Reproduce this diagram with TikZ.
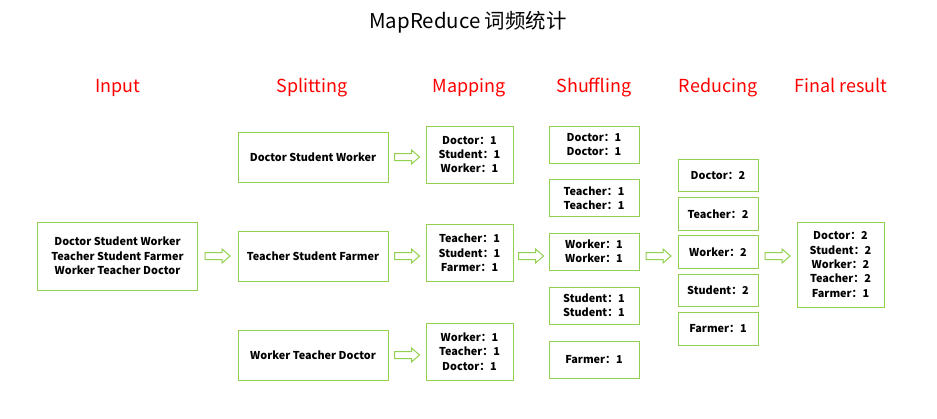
\documentclass[tikz,border=0pt]{standalone}
\usepackage{fontspec}
\setmainfont{Noto Sans CJK SC}
\usetikzlibrary{calc}
\definecolor{lgreen}{RGB}{146,208,80}
\tikzset{
  box/.style={draw=lgreen, line width=1bp, align=center, inner sep=0pt,
    font=\bfseries\fontsize{10.9}{14.5}\selectfont},
  hdr/.style={red, anchor=base, font=\fontsize{18}{20}\selectfont},
  flow/.pic={\draw[lgreen, line width=1bp, fill=white]
    (-12.5,-3.5) -- (4.5,-3.5) -- (4.5,-7) -- (12.5,0) -- (4.5,7)
    -- (4.5,3.5) -- (-12.5,3.5) -- cycle;}
}
\begin{document}
\begin{tikzpicture}[x=1bp,y=-1bp]
\useasboundingbox (0,0) rectangle (937,418);
\node (title) at (468,28) [anchor=base, font=\fontsize{20.5}{22}\selectfont] {MapReduce 词频统计};
\foreach \x/\t [count=\i] in {118/Input,312/Splitting,469/Mapping,
    594/Shuffling,718/Reducing,841/Final result}
  \node[hdr] (h\i) at (\x,92) {\t};
\node[box, minimum width=159bp, minimum height=68bp] (in) at (117.5,256)
  {Doctor Student Worker\\Teacher Student Farmer\\Worker Teacher Doctor};
\foreach \y/\t [count=\i] in {157/Doctor Student Worker,
    256/Teacher Student Farmer,355/Worker Teacher Doctor}
  \node[box, minimum width=150bp, minimum height=50bp] (s\i) at (313,\y) {\t};
\foreach \y/\t [count=\i] in {154.5/{Doctor：1\\Student：1\\Worker：1},
    253/{Teacher：1\\Student：1\\Farmer：1},
    351.5/{Worker：1\\Teacher：1\\Doctor：1}}
  \node[box, minimum width=87bp, minimum height=57bp] (m\i) at (469.5,\y) {\t};
\foreach \y/\t [count=\i] in {144.5/{Doctor：1\\Doctor：1},
    198/{Teacher：1\\Teacher：1},251.5/{Worker：1\\Worker：1},
    305.5/{Student：1\\Student：1},359.5/{Farmer：1}}
  \node[box, minimum width=90bp, minimum height=37bp] (sh\i) at (594,\y) {\t};
\foreach \y/\t [count=\i] in {175.5/Doctor：2,214/Teacher：2,252/Worker：2,
    290.5/Student：2,329/Farmer：1}
  \node[box, minimum width=80bp, minimum height=32.5bp] (r\i) at (718,\y) {\t};
\node[box, minimum width=87bp, minimum height=85bp] (fr) at (840.5,264.5)
  {Doctor：2\\Student：2\\Worker：2\\Teacher：2\\Farmer：1};
\foreach \a/\b/\c in {in/s2/in,s1/m1/s1,s2/m2/in,s3/m3/s3,
    m2/sh3/in,sh3/r3/in,r3/fr/in} {
  \coordinate (mid) at ($(\a.east)!.5!(\b.west)$);
  \pic at (mid |- \c) {flow};
}
\end{tikzpicture}
\end{document}
